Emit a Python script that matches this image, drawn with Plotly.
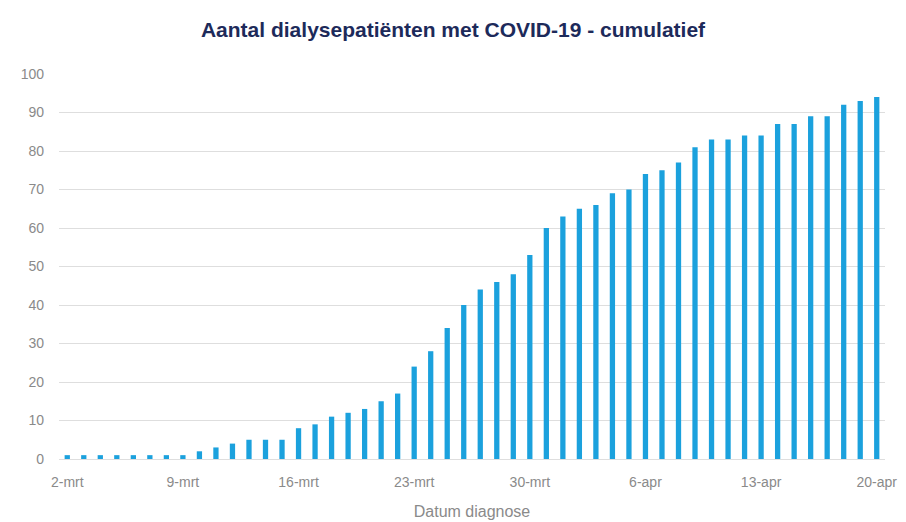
import plotly.graph_objects as go
import pandas as pd

# Cumulative number of dialysis patients with COVID-19, per diagnosis date (2 Mar - 20 Apr)
dates = pd.date_range("2020-03-02", "2020-04-20", freq="D")
cumulative = [
    1, 1, 1, 1, 1, 1, 1, 1, 2, 3,          # 2-11 mrt
    4, 5, 5, 5, 8, 9, 11, 12, 13, 15,      # 12-21 mrt
    17, 24, 28, 34, 40, 44, 46, 48, 53, 60,  # 22-31 mrt
    63, 65, 66, 69, 70, 74, 75, 77, 81, 83,  # 1-10 apr
    83, 84, 84, 87, 87, 89, 89, 92, 93, 94,  # 11-20 apr
]

month_nl = {3: "mrt", 4: "apr"}
categories = [f"{d.day}-{month_nl[d.month]}" for d in dates]
tick_labels = ["2-mrt", "9-mrt", "16-mrt", "23-mrt", "30-mrt", "6-apr", "13-apr", "20-apr"]
y_ticks = list(range(0, 101, 10))

fig = go.Figure(
    go.Bar(
        x=categories,
        y=cumulative,
        marker=dict(color="#1ba1dd", line=dict(width=0)),
        width=0.32,
        hoverinfo="x+y",
    )
)

fig.update_layout(
    width=906,
    height=522,
    paper_bgcolor="white",
    plot_bgcolor="white",
    margin=dict(l=59, r=21, t=74, b=63, autoexpand=False),
    showlegend=False,
    font=dict(family="Liberation Sans, Arial, sans-serif", color="#8a8a8a"),
    title=dict(
        text="<b>Aantal dialysepatiënten met COVID-19 - cumulatief</b>",
        x=0.5,
        xanchor="center",
        y=0.943,
        yanchor="middle",
        font=dict(family="Liberation Sans, Arial, sans-serif", size=21, color="#1d2a5a"),
    ),
)

fig.update_xaxes(
    type="category",
    categoryorder="array",
    categoryarray=categories,
    range=[-0.5, len(categories) - 0.5],
    tickmode="array",
    tickvals=tick_labels,
    ticktext=tick_labels,
    tickfont=dict(size=14, color="#8a8a8a"),
    showgrid=False,
    showline=False,
    ticks="",
    ticklabelstandoff=13,
    title=dict(text="Datum diagnose", font=dict(size=16, color="#8a8a8a"), standoff=16),
)

fig.update_yaxes(
    range=[0, 100],
    tickmode="array",
    tickvals=y_ticks,
    tickfont=dict(size=14, color="#8a8a8a"),
    showgrid=True,
    gridcolor="#dedede",
    gridwidth=1,
    zeroline=True,
    zerolinecolor="#dedede",
    zerolinewidth=1,
    showline=False,
    ticks="",
    ticklabelstandoff=14,
)

fig.write_html("out.html")
